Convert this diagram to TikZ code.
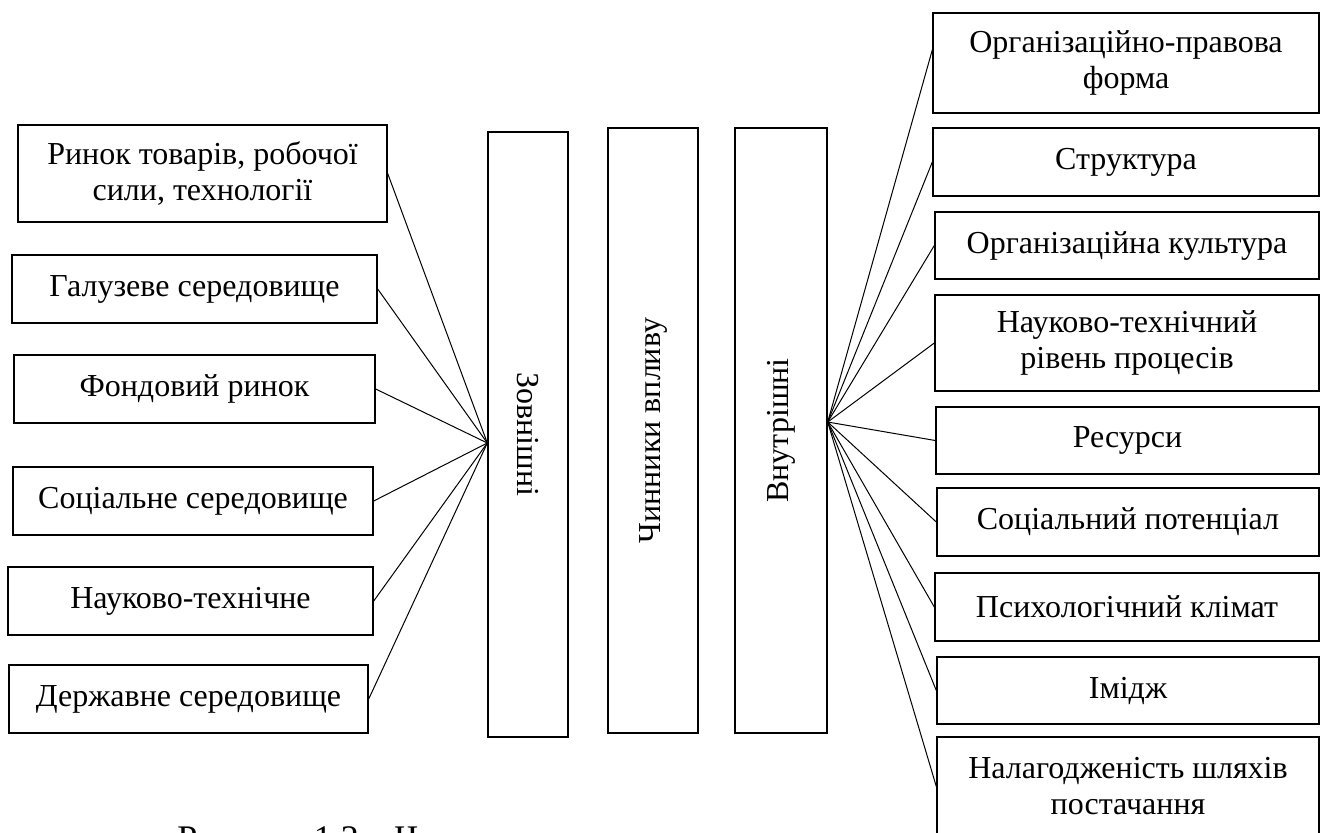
\documentclass[tikz,border=0pt]{standalone}
\usepackage{fontspec}
\setmainfont{Liberation Serif}
\usetikzlibrary{calc}
\newcommand\mybox[6]{\node[box, minimum width={(#4-#2)*0.5pt}, minimum height={(#5-#3)*0.5pt}] (#1) at ({(#2+#4)/2},{(#3+#5)/2}) {#6};}
\begin{document}
\begin{tikzpicture}[x=0.5pt,y=-0.5pt,
  box/.style={draw, line width=0.7pt, inner sep=0pt, align=center, font=\fontsize{16}{18}\selectfont},
  vtext/.style={inner sep=0pt, font=\fontsize{16}{18}\selectfont},
  conn/.style={draw, line width=0.5pt},
  captext/.style={inner sep=0pt, anchor=base west, font=\fontsize{18}{20}\selectfont}]
\useasboundingbox (0,0) rectangle (1320,832);
% left boxes
\mybox{l1}{18}{125}{387}{222}{Ринок товарів, робочої\\сили, технології}
\mybox{l2}{12}{255}{377}{323}{Галузеве середовище}
\mybox{l3}{14}{355}{375}{423}{Фондовий ринок}
\mybox{l4}{13}{467}{373}{535}{Соціальне середовище}
\mybox{l5}{8}{567}{373}{635}{Науково-технічне}
\mybox{l6}{9}{665}{368}{733}{Державне середовище}
% central vertical boxes
\mybox{zbox}{488}{132}{568}{737}{}
\mybox{cbox}{608}{128}{698}{733}{}
\mybox{vbox}{735}{128}{827}{733}{}
\node[vtext, rotate=-90] (ztext) at (zbox.center) {Зовнішні};
\node[vtext, rotate=90] (ctext) at (cbox.center) {Чинники впливу};
\node[vtext, rotate=90] (vtext) at (vbox.center) {Внутрішні};
% right boxes
\mybox{r1}{933}{13}{1319}{113}{Організаційно-правова\\форма}
\mybox{r2}{933}{128}{1319}{196}{Структура}
\mybox{r3}{935}{212}{1319}{279}{Організаційна культура}
\mybox{r4}{935}{295}{1319}{391}{Науково-технічний\\рівень процесів}
\mybox{r5}{936}{407}{1319}{474}{Ресурси}
\mybox{r6}{937}{488}{1319}{556}{Соціальний потенціал}
\mybox{r7}{935}{573}{1319}{641}{Психологічний клімат}
\mybox{r8}{937}{657}{1319}{724}{Імідж}
\mybox{r9}{937}{737}{1319}{836}{Налагодженість шляхів\\постачання}
% hubs
\coordinate (hubL) at ($(zbox.north west)!0.514!(zbox.south west)$);
\coordinate (hubR) at ($(vbox.north east)!0.486!(vbox.south east)$);
\coordinate (r1in) at ($(r1.north west)!0.37!(r1.south west)$);
% connectors
\foreach \n in {l1,l2,l3,l4,l5,l6} \draw[conn] (\n.east) -- (hubL);
\draw[conn] (hubR) -- (r1in);
\foreach \n in {r2,r3,r4,r5,r6,r7,r8,r9} \draw[conn] (hubR) -- (\n.west);
% caption (cut by the lower edge)
\node[captext] (cap) at (177,850) {Рисунок 1.2 – Ч};
\end{tikzpicture}
\end{document}
